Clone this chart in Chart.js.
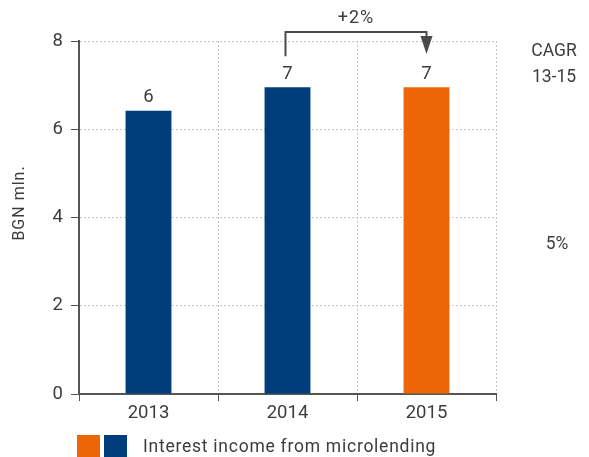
<!DOCTYPE html>
<html>
<head>
<meta charset="utf-8">
<script src="https://cdn.jsdelivr.net/npm/chart.js@4.4.0/dist/chart.umd.min.js"></script>
<style>
  html, body { margin: 0; padding: 0; background: #fff; }
  #wrap { width: 589px; height: 457px; position: relative; }
</style>
</head>
<body>
<div id="wrap"><canvas id="myChart"></canvas></div>
<script>
// donnees du graphique
var years = ['2013', '2014', '2015'];
var income = [6.42, 6.95, 6.95];
var barColors = ['#003d7a', '#003d7a', '#ec6608'];
var yTicks = [0, 2, 4, 6, 8];
var growthLabel = '+2%';
var cagrTitle = ['CAGR', '13-15'];
var cagrValue = '5%';
var yTitle = 'BGN mln.';
var legendText = 'Interest income from microlending';
var legendColors = ['#ec6608', '#003d7a'];

var textColor = '#3c3c3c';
var fontFamily = 'Roboto, "Liberation Sans", sans-serif';

// etiquettes, fleche, CAGR, titre Y et legende dessines a la main
var extras = {
  id: 'extras',
  afterDatasetsDraw: function (chart) {
    var ctx = chart.ctx;
    var y = chart.scales.y;
    ctx.save();
    ctx.fillStyle = textColor;
    ctx.font = '18.5px ' + fontFamily;
    ctx.textAlign = 'center';
    ctx.textBaseline = 'middle';

    // valeurs au-dessus des barres
    var meta = chart.getDatasetMeta(0);
    meta.data.forEach(function (bar, i) {
      ctx.fillText(String(Math.round(income[i])), bar.x, bar.y - 13);
    });

    // fleche de croissance 2014 -> 2015
    var x1 = meta.data[1].x - 2, x2 = meta.data[2].x;
    var topY = y.getPixelForValue(yTicks[yTicks.length - 1]) - 9;
    ctx.strokeStyle = '#4a4a4a';
    ctx.lineWidth = 2;
    ctx.beginPath();
    ctx.moveTo(x1, meta.data[1].y - 31);
    ctx.lineTo(x1, topY);
    ctx.lineTo(x2, topY);
    ctx.lineTo(x2, topY + 6);
    ctx.stroke();
    ctx.fillStyle = '#4a4a4a';
    ctx.beginPath();
    ctx.moveTo(x2 - 6, topY + 4);
    ctx.lineTo(x2 + 6, topY + 4);
    ctx.lineTo(x2, topY + 22);
    ctx.closePath();
    ctx.fill();
    ctx.fillStyle = textColor;
    ctx.font = '18px ' + fontFamily;
    ctx.letterSpacing = '1px';
    ctx.fillText(growthLabel, (x1 + x2) / 2, 18);

    // CAGR a droite
    ctx.letterSpacing = '0px';
    ctx.font = '17.5px ' + fontFamily;
    ctx.fillText(cagrTitle[0], 554, 52);
    ctx.fillText(cagrTitle[1], 554, 78);
    ctx.fillText(cagrValue, 557, 245);

    // titre de l'axe Y
    ctx.save();
    ctx.translate(20, 203);
    ctx.rotate(-Math.PI / 2);
    ctx.letterSpacing = '1px';
    ctx.font = '16px ' + fontFamily;
    ctx.fillText(yTitle, 0, 0);
    ctx.restore();

    // legende
    ctx.fillStyle = legendColors[0];
    ctx.fillRect(77, 435, 23, 22);
    ctx.fillStyle = legendColors[1];
    ctx.fillRect(104, 435, 23, 22);
    ctx.fillStyle = textColor;
    ctx.textAlign = 'left';
    ctx.letterSpacing = '0.75px';
    ctx.font = '17.5px ' + fontFamily;
    ctx.fillText(legendText, 143, 448);
    ctx.restore();
  }
};

var ctx = document.getElementById('myChart').getContext('2d');
new Chart(ctx, {
  type: 'bar',
  data: {
    labels: years,
    datasets: [{
      data: income,
      backgroundColor: barColors,
      categoryPercentage: 1,
      barPercentage: 0.33
    }]
  },
  options: {
    responsive: true,
    maintainAspectRatio: false,
    animation: false,
    layout: { padding: { top: 41, right: 93, bottom: 28, left: 0 } },
    plugins: { legend: { display: false }, tooltip: { enabled: false } },
    scales: {
      x: {
        offset: true,
        afterFit: function (s) { s.height = 35; },
        grid: {
          offset: true,
          color: '#c4c4c4',
          tickColor: '#555',
          tickBorderDash: [],
          tickLength: 7,
          lineWidth: 1
        },
        border: { color: '#555', width: 2, dash: [2, 2] },
        ticks: { color: textColor, font: { family: fontFamily, size: 18.5 }, padding: 1 }
      },
      y: {
        min: 0,
        max: 8,
        afterFit: function (s) { s.width = 79; },
        afterBuildTicks: function (s) { s.ticks = yTicks.map(function (v) { return { value: v }; }); },
        grid: {
          color: '#c4c4c4',
          tickColor: '#555',
          tickBorderDash: [],
          tickLength: 8,
          lineWidth: 1
        },
        border: { color: '#555', width: 2, dash: [2, 2] },
        ticks: { color: textColor, font: { family: fontFamily, size: 18.5 }, padding: 8 }
      }
    }
  },
  plugins: [extras]
});
</script>
</body>
</html>
